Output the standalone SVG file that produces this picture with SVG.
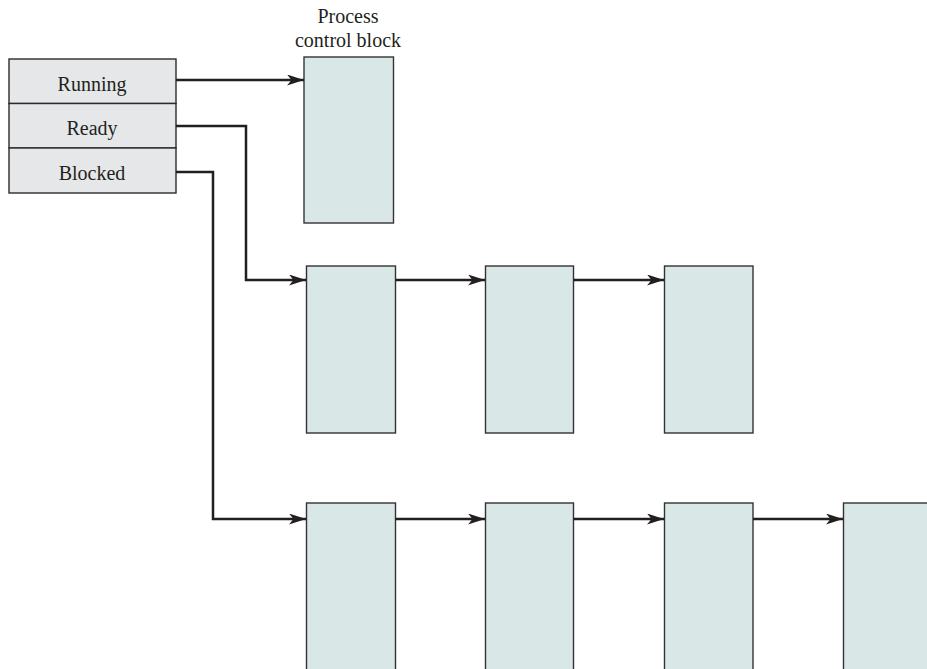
<svg xmlns="http://www.w3.org/2000/svg" width="927" height="669" viewBox="0 0 927 669">
<defs>
<style>
.tbl{fill:#e6e7e8;stroke:#2b2b2b;stroke-width:1.4}
.pcb{fill:#d9e7e7;stroke:#333;stroke-width:1.4}
.lbl{font-family:"Liberation Serif",serif;font-size:20px;fill:#231f20;text-anchor:middle}
.con{fill:none;stroke:#231f20;stroke-width:2.5}
</style>
<marker id="ah" viewBox="0 0 17 11" refX="17" refY="5.5" markerWidth="17" markerHeight="11" markerUnits="userSpaceOnUse" orient="auto">
<path d="M0,0 L17,5.5 L0,11 L4.5,5.5 Z" fill="#231f20"/>
</marker>
</defs>
<rect width="927" height="669" fill="#fff"/>
<text class="lbl" x="348" y="23">Process</text>
<text class="lbl" x="348" y="47">control block</text>
<g id="running"><rect class="tbl" x="9" y="59" width="167" height="44.5"/><text class="lbl" x="92" y="91">Running</text></g>
<g id="ready"><rect class="tbl" x="9" y="103.5" width="167" height="44.5"/><text class="lbl" x="92" y="135">Ready</text></g>
<g id="blocked"><rect class="tbl" x="9" y="148" width="167" height="45"/><text class="lbl" x="92" y="180">Blocked</text></g>
<g id="pcb-run"><rect class="pcb" x="304" y="57" width="89.5" height="166"/></g>
<g id="ready1"><rect class="pcb" x="306.5" y="266" width="89" height="167"/></g>
<g id="ready2"><rect class="pcb" x="485.5" y="266" width="88" height="167"/></g>
<g id="ready3"><rect class="pcb" x="664.5" y="266" width="88.5" height="167"/></g>
<g id="blocked1"><rect class="pcb" x="306.5" y="503" width="89" height="180"/></g>
<g id="blocked2"><rect class="pcb" x="485.5" y="503" width="88" height="180"/></g>
<g id="blocked3"><rect class="pcb" x="664.5" y="503" width="88.5" height="180"/></g>
<g id="blocked4"><rect class="pcb" x="843.5" y="503" width="100" height="180"/></g>
<g id="connectors">
<path class="con" d="M176,80 H304" marker-end="url(#ah)"/>
<path class="con" d="M176,126 H246 V280 H306" marker-end="url(#ah)"/>
<path class="con" d="M176,172 H213 V519 H306" marker-end="url(#ah)"/>
<path class="con" d="M395.5,280 H485" marker-end="url(#ah)"/>
<path class="con" d="M573.5,280 H664" marker-end="url(#ah)"/>
<path class="con" d="M395.5,519 H485" marker-end="url(#ah)"/>
<path class="con" d="M573.5,519 H664" marker-end="url(#ah)"/>
<path class="con" d="M753,519 H843" marker-end="url(#ah)"/>
</g>
</svg>
